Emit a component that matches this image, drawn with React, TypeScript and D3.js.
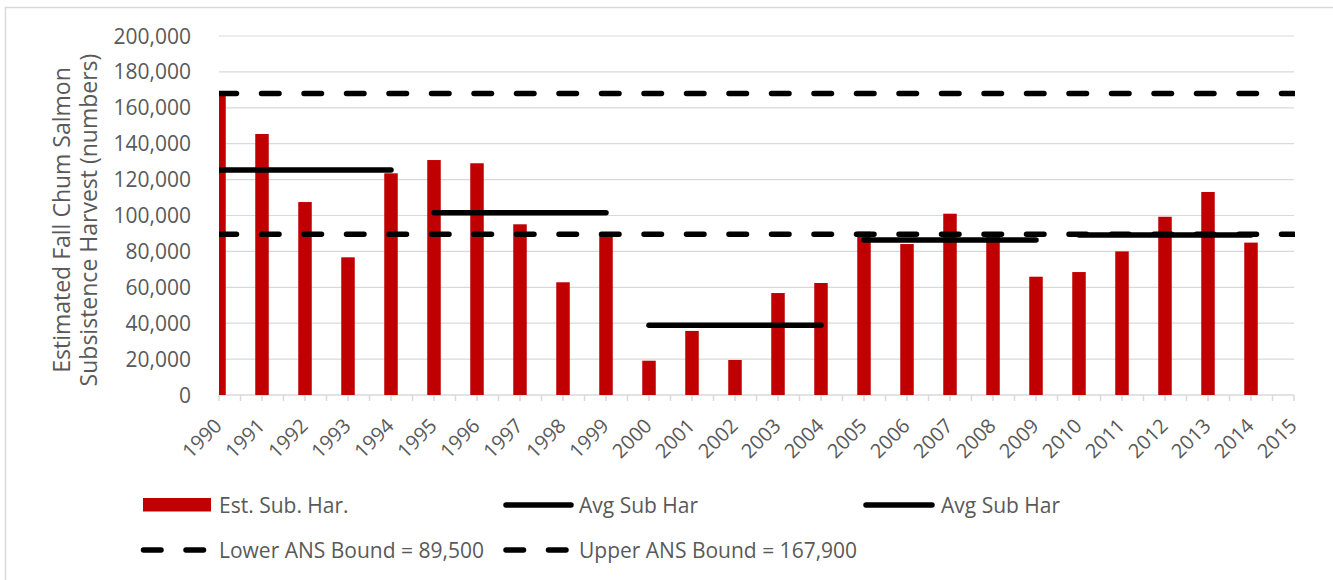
import React from "react";
import * as d3 from "d3";

const years = ["1990","1991","1992","1993","1994","1995","1996","1997","1998","1999","2000","2001","2002","2003","2004","2005","2006","2007","2008","2009","2010","2011","2012","2013","2014","2015"];
const harvest = [167000,145400,107500,76700,123500,130900,129100,95100,62800,89000,19100,35700,19500,56800,62400,91000,84100,101000,89000,65900,68500,80000,99300,113100,84900];
const avgStart = ["1990","1995","2000","2005","2010"];
const avgEnd = ["1994","1999","2004","2009","2014"];
const avgValue = [125300,101600,38800,86300,89200];
const lowerBound = 89500;
const upperBound = 167900;
const yTicks = [0,20000,40000,60000,80000,100000,120000,140000,160000,180000,200000];
const legendRow1 = ["Est. Sub. Har.", "Avg Sub Har", "Avg Sub Har"];
const legendRow2 = ["Lower ANS Bound = 89,500", "Upper ANS Bound = 167,900"];

const W = 1333, H = 580;
const X0 = 219, X1 = 1294, Y0 = 395, Y1 = 36;
const FONT = "'Open Sans', 'Noto Sans', sans-serif";
const TXT = "#595959";
const GRID = "#d9d9d9";
const RED = "#c00000";

export default function App() {
  const x = d3.scalePoint<string>().domain(years).range([X0, X1]);
  const y = d3.scaleLinear().domain([0, 200000]).range([Y0, Y1]);
  const step = x.step();
  const barW = 13.5;
  const fmt = d3.format(",");
  const halfTicks = d3.range(0, years.length * 2 - 1).map((i) => X0 + (i * step) / 2);
  const dash = "17.5 25";

  return (
    <svg width={W} height={H} style={{ position: "absolute", left: 0, top: 0, background: "#fff" }}>
      <defs>
        <clipPath id="plot">
          <rect x={X0} y={0} width={X1 - X0 + 1} height={Y0} />
        </clipPath>
      </defs>
      <rect x={5.5} y={7.5} width={1400} height={700} fill="#fff" stroke={GRID} strokeWidth={1.5} />
      {yTicks.slice(1).map((t) => (
        <line key={t} x1={X0} x2={X1} y1={y(t)} y2={y(t)} stroke={GRID} strokeWidth={1.2} />
      ))}
      {yTicks.map((t) => (
        <text key={"l" + t} x={191} y={y(t)} dy="0.36em" textAnchor="end" fontFamily={FONT} fontSize={21} fill={TXT}>
          {fmt(t)}
        </text>
      ))}
      <line x1={X0} x2={X1} y1={Y0} y2={Y0} stroke={GRID} strokeWidth={1.5} />
      {halfTicks.map((tx, i) => (
        <line key={"t" + i} x1={tx} x2={tx} y1={Y0} y2={Y0 + 6} stroke={GRID} strokeWidth={1.5} />
      ))}
      {years.map((yr) => (
        <text
          key={"x" + yr}
          transform={`translate(${(x(yr) as number) - 1},${Y0 + 27}) rotate(-45)`}
          textAnchor="end"
          dy="0.36em"
          fontFamily={FONT}
          fontSize={20}
          fill={TXT}
        >
          {yr}
        </text>
      ))}
      <g clipPath="url(#plot)">
        {harvest.map((v, i) => (
          <rect
            key={"b" + i}
            x={(x(years[i]) as number) - barW / 2}
            y={y(v)}
            width={barW}
            height={Y0 - y(v)}
            fill={RED}
          />
        ))}
        {avgValue.map((v, i) => (
          <line
            key={"a" + i}
            x1={x(avgStart[i]) as number}
            x2={x(avgEnd[i]) as number}
            y1={y(v)}
            y2={y(v)}
            stroke="#000"
            strokeWidth={5.5}
            strokeLinecap="round"
          />
        ))}
        {[lowerBound, upperBound].map((v) => (
          <line
            key={"d" + v}
            x1={X0}
            x2={X1}
            y1={y(v)}
            y2={y(v)}
            stroke="#000"
            strokeWidth={5.5}
            strokeLinecap="round"
            strokeDasharray={dash}
          />
        ))}
      </g>
      <text
        transform={`translate(62,220) rotate(-90)`}
        textAnchor="middle"
        fontFamily={FONT}
        fontSize={23}
        fill={TXT}
      >
        <tspan x={0} dy="0.36em">Estimated Fall Chum Salmon</tspan>
        <tspan x={0} dy="27">Subsistence Harvest (numbers)</tspan>
      </text>
      {/* legend row 1 */}
      <rect x={143} y={498} width={68} height={13.5} fill={RED} />
      <text x={219} y={505} dy="0.36em" fontFamily={FONT} fontSize={21} fill={TXT}>{legendRow1[0]}</text>
      <line x1={506} x2={571} y1={505} y2={505} stroke="#000" strokeWidth={5.5} strokeLinecap="round" />
      <text x={579} y={505} dy="0.36em" fontFamily={FONT} fontSize={21} fill={TXT}>{legendRow1[1]}</text>
      <line x1={866} x2={932} y1={505} y2={505} stroke="#000" strokeWidth={5.5} strokeLinecap="round" />
      <text x={941} y={505} dy="0.36em" fontFamily={FONT} fontSize={21} fill={TXT}>{legendRow1[2]}</text>
      {/* legend row 2 */}
      <line x1={143.5} x2={204} y1={550} y2={550} stroke="#000" strokeWidth={5.5} strokeLinecap="round" strokeDasharray={dash} />
      <text x={219} y={550} dy="0.36em" fontFamily={FONT} fontSize={21} fill={TXT}>{legendRow2[0]}</text>
      <line x1={506} x2={566} y1={550} y2={550} stroke="#000" strokeWidth={5.5} strokeLinecap="round" strokeDasharray={dash} />
      <text x={579} y={550} dy="0.36em" fontFamily={FONT} fontSize={21} fill={TXT}>{legendRow2[1]}</text>
    </svg>
  );
}
